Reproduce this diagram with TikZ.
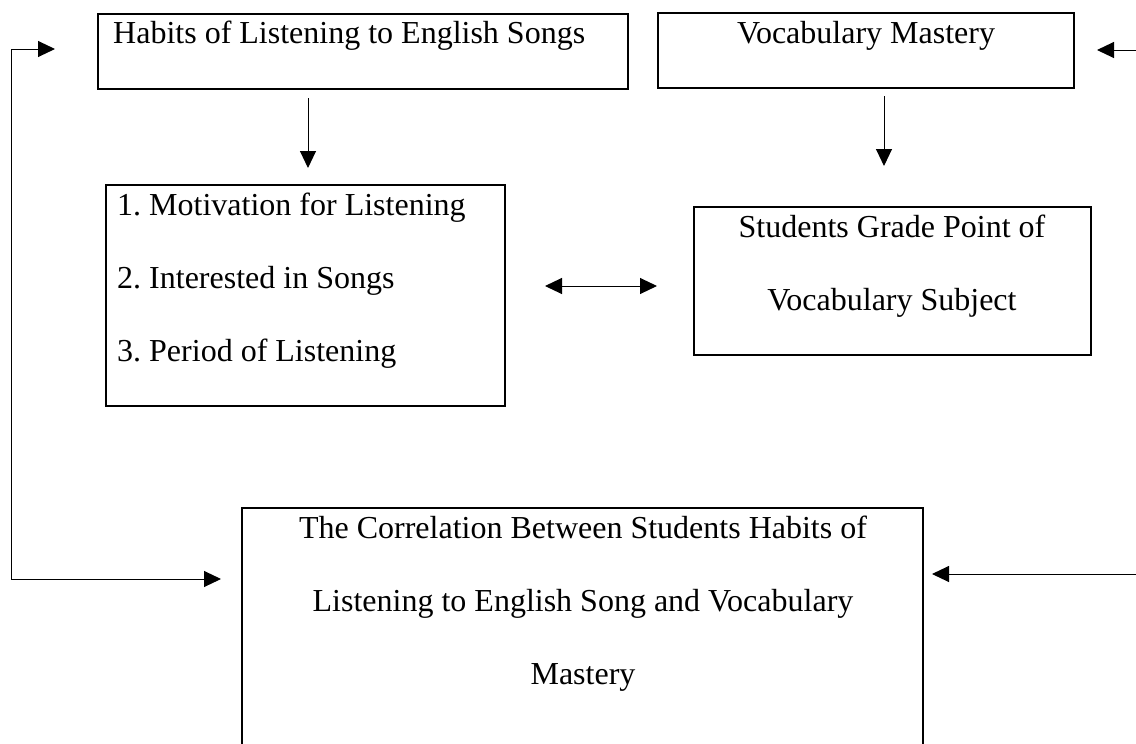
\documentclass[tikz,border=0pt]{standalone}
\usepackage{fontspec}
\setmainfont{Liberation Serif}
\usetikzlibrary{arrows.meta}
\frenchspacing
\begin{document}
\begin{tikzpicture}[x=1pt,y=-1pt,
  box/.style={draw,line width=2pt,inner sep=0pt,anchor=north west},
  txt/.style={font=\fontsize{32}{38}\selectfont,inner sep=0pt,anchor=base},
  conn/.style={line width=1pt,-{Triangle[length=17pt,width=16pt]}},
  both/.style={line width=1pt,{Triangle[length=17pt,width=16pt]}-{Triangle[length=17pt,width=16pt]}}]
\useasboundingbox (0,0) rectangle (1136,744);
\clip (0,0) rectangle (1136,744);
% boxes
\node[box,minimum width=530pt,minimum height=75pt] (hab) at (97,13) {};
\node[box,minimum width=416pt,minimum height=75pt] (voc) at (657,12) {};
\node[box,minimum width=399pt,minimum height=221pt] (lst) at (105,184) {};
\node[box,minimum width=397pt,minimum height=148pt] (grd) at (693,206) {};
\node[box,minimum width=681pt,minimum height=300pt] (cor) at (241,507) {};
% texts
\node[txt,anchor=base west] (t1) at (113,43) {Habits of Listening to English Songs};
\node[txt] (t2) at (866,43) {Vocabulary Mastery};
\node[txt,anchor=base west] (l1) at (117,215) {1.\ Motivation for Listening};
\node[txt,anchor=base west] (l2) at (117,288) {2.\ Interested in Songs};
\node[txt,anchor=base west] (l3) at (117,361) {3.\ Period of Listening};
\node[txt] (g1) at (892,237) {Students Grade Point of};
\node[txt] (g2) at (892,310) {Vocabulary Subject};
\node[txt] (c1) at (583,538) {The Correlation Between Students Habits of};
\node[txt] (c2) at (583,611) {Listening to English Song and Vocabulary};
\node[txt] (c3) at (583,684) {Mastery};
% connector end points
\coordinate (habS) at (308,98);
\coordinate (habT) at (308,168);
\coordinate (vocS) at (884,96);
\coordinate (vocT) at (884,166);
\coordinate (dL) at (545,286);
\coordinate (dR) at (657,286);
\coordinate (ltop) at (55,49);
\coordinate (lbot) at (221,579);
\coordinate (rtop) at (1097,50);
\coordinate (rbot) at (932,574);
% connectors
\draw[conn] (habS) -- (habT);
\draw[conn] (vocS) -- (vocT);
\draw[both] (dL) -- (dR);
\draw[both] (ltop) -- (11,49) |- (lbot);
\draw[both] (rtop) -- (1150,50) |- (rbot);
\end{tikzpicture}
\end{document}
